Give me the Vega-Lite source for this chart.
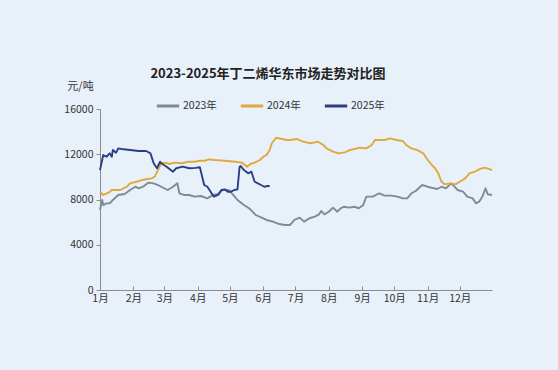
{
  "$schema": "https://vega.github.io/schema/vega-lite/v6.json",
  "width": 392,
  "height": 181,
  "autosize": "none",
  "padding": {"left": 100, "top": 109, "right": 66, "bottom": 80},
  "background": "#E8F0FA",
  "title": {
    "text": "2023-2025年丁二烯华东市场走势对比图",
    "fontSize": 13,
    "fontWeight": "bold",
    "color": "#222222",
    "font": "Noto Sans CJK SC",
    "frame": "group",
    "anchor": "middle",
    "dx": -28,
    "offset": -1
  },
  "config": {
    "view": {"stroke": null},
    "font": "Noto Sans CJK SC"
  },
  "data": {
    "values": [
      {"year": "2023年", "date": "2023-01-01", "price": 7070},
      {"year": "2023年", "date": "2023-01-03", "price": 7960},
      {"year": "2023年", "date": "2023-01-04", "price": 7510},
      {"year": "2023年", "date": "2023-01-07", "price": 7660},
      {"year": "2023年", "date": "2023-01-10", "price": 7660},
      {"year": "2023年", "date": "2023-01-13", "price": 7960},
      {"year": "2023年", "date": "2023-01-18", "price": 8400},
      {"year": "2023年", "date": "2023-01-24", "price": 8490},
      {"year": "2023年", "date": "2023-01-29", "price": 8840},
      {"year": "2023年", "date": "2023-02-03", "price": 9130},
      {"year": "2023年", "date": "2023-02-06", "price": 8990},
      {"year": "2023年", "date": "2023-02-10", "price": 9130},
      {"year": "2023年", "date": "2023-02-15", "price": 9490},
      {"year": "2023年", "date": "2023-02-20", "price": 9430},
      {"year": "2023年", "date": "2023-02-24", "price": 9280},
      {"year": "2023年", "date": "2023-02-27", "price": 9130},
      {"year": "2023年", "date": "2023-03-04", "price": 8840},
      {"year": "2023年", "date": "2023-03-09", "price": 9130},
      {"year": "2023年", "date": "2023-03-13", "price": 9430},
      {"year": "2023年", "date": "2023-03-15", "price": 8550},
      {"year": "2023年", "date": "2023-03-19", "price": 8400},
      {"year": "2023年", "date": "2023-03-24", "price": 8400},
      {"year": "2023年", "date": "2023-03-29", "price": 8250},
      {"year": "2023年", "date": "2023-04-04", "price": 8310},
      {"year": "2023年", "date": "2023-04-10", "price": 8100},
      {"year": "2023年", "date": "2023-04-15", "price": 8400},
      {"year": "2023年", "date": "2023-04-20", "price": 8490},
      {"year": "2023年", "date": "2023-04-24", "price": 8840},
      {"year": "2023年", "date": "2023-04-30", "price": 8840},
      {"year": "2023年", "date": "2023-05-04", "price": 8400},
      {"year": "2023年", "date": "2023-05-08", "price": 7960},
      {"year": "2023年", "date": "2023-05-14", "price": 7510},
      {"year": "2023年", "date": "2023-05-19", "price": 7220},
      {"year": "2023年", "date": "2023-05-22", "price": 6920},
      {"year": "2023年", "date": "2023-05-25", "price": 6630},
      {"year": "2023年", "date": "2023-05-30", "price": 6420},
      {"year": "2023年", "date": "2023-06-04", "price": 6190},
      {"year": "2023年", "date": "2023-06-10", "price": 6040},
      {"year": "2023年", "date": "2023-06-16", "price": 5830},
      {"year": "2023年", "date": "2023-06-21", "price": 5750},
      {"year": "2023年", "date": "2023-06-26", "price": 5750},
      {"year": "2023年", "date": "2023-06-30", "price": 6190},
      {"year": "2023年", "date": "2023-07-05", "price": 6400},
      {"year": "2023年", "date": "2023-07-09", "price": 6040},
      {"year": "2023年", "date": "2023-07-14", "price": 6340},
      {"year": "2023年", "date": "2023-07-19", "price": 6480},
      {"year": "2023年", "date": "2023-07-23", "price": 6690},
      {"year": "2023年", "date": "2023-07-25", "price": 6980},
      {"year": "2023年", "date": "2023-07-28", "price": 6690},
      {"year": "2023年", "date": "2023-08-01", "price": 6920},
      {"year": "2023年", "date": "2023-08-05", "price": 7280},
      {"year": "2023年", "date": "2023-08-09", "price": 6920},
      {"year": "2023年", "date": "2023-08-12", "price": 7220},
      {"year": "2023年", "date": "2023-08-15", "price": 7360},
      {"year": "2023年", "date": "2023-08-20", "price": 7280},
      {"year": "2023年", "date": "2023-08-25", "price": 7360},
      {"year": "2023年", "date": "2023-08-29", "price": 7220},
      {"year": "2023年", "date": "2023-09-02", "price": 7510},
      {"year": "2023年", "date": "2023-09-05", "price": 8250},
      {"year": "2023年", "date": "2023-09-11", "price": 8250},
      {"year": "2023年", "date": "2023-09-17", "price": 8550},
      {"year": "2023年", "date": "2023-09-22", "price": 8340},
      {"year": "2023年", "date": "2023-09-28", "price": 8340},
      {"year": "2023年", "date": "2023-10-04", "price": 8250},
      {"year": "2023年", "date": "2023-10-09", "price": 8100},
      {"year": "2023年", "date": "2023-10-13", "price": 8100},
      {"year": "2023年", "date": "2023-10-17", "price": 8550},
      {"year": "2023年", "date": "2023-10-21", "price": 8750},
      {"year": "2023年", "date": "2023-10-27", "price": 9280},
      {"year": "2023年", "date": "2023-11-01", "price": 9130},
      {"year": "2023年", "date": "2023-11-07", "price": 8990},
      {"year": "2023年", "date": "2023-11-10", "price": 8930},
      {"year": "2023年", "date": "2023-11-14", "price": 9130},
      {"year": "2023年", "date": "2023-11-18", "price": 8990},
      {"year": "2023年", "date": "2023-11-21", "price": 9230},
      {"year": "2023年", "date": "2023-11-23", "price": 9430},
      {"year": "2023年", "date": "2023-11-26", "price": 9130},
      {"year": "2023年", "date": "2023-11-29", "price": 8840},
      {"year": "2023年", "date": "2023-12-04", "price": 8690},
      {"year": "2023年", "date": "2023-12-08", "price": 8250},
      {"year": "2023年", "date": "2023-12-13", "price": 8100},
      {"year": "2023年", "date": "2023-12-16", "price": 7660},
      {"year": "2023年", "date": "2023-12-19", "price": 7810},
      {"year": "2023年", "date": "2023-12-22", "price": 8250},
      {"year": "2023年", "date": "2023-12-25", "price": 8990},
      {"year": "2023年", "date": "2023-12-27", "price": 8460},
      {"year": "2023年", "date": "2023-12-31", "price": 8400},

      {"year": "2024年", "date": "2024-01-01", "price": 8690},
      {"year": "2024年", "date": "2024-01-04", "price": 8400},
      {"year": "2024年", "date": "2024-01-09", "price": 8600},
      {"year": "2024年", "date": "2024-01-12", "price": 8840},
      {"year": "2024年", "date": "2024-01-20", "price": 8840},
      {"year": "2024年", "date": "2024-01-26", "price": 9130},
      {"year": "2024年", "date": "2024-01-29", "price": 9430},
      {"year": "2024年", "date": "2024-02-04", "price": 9570},
      {"year": "2024年", "date": "2024-02-09", "price": 9720},
      {"year": "2024年", "date": "2024-02-13", "price": 9790},
      {"year": "2024年", "date": "2024-02-18", "price": 9870},
      {"year": "2024年", "date": "2024-02-21", "price": 10020},
      {"year": "2024年", "date": "2024-02-24", "price": 10600},
      {"year": "2024年", "date": "2024-02-27", "price": 11200},
      {"year": "2024年", "date": "2024-03-02", "price": 11260},
      {"year": "2024年", "date": "2024-03-05", "price": 11140},
      {"year": "2024年", "date": "2024-03-11", "price": 11260},
      {"year": "2024年", "date": "2024-03-17", "price": 11200},
      {"year": "2024年", "date": "2024-03-23", "price": 11340},
      {"year": "2024年", "date": "2024-03-29", "price": 11340},
      {"year": "2024年", "date": "2024-04-03", "price": 11430},
      {"year": "2024年", "date": "2024-04-08", "price": 11430},
      {"year": "2024年", "date": "2024-04-11", "price": 11550},
      {"year": "2024年", "date": "2024-04-17", "price": 11490},
      {"year": "2024年", "date": "2024-04-26", "price": 11430},
      {"year": "2024年", "date": "2024-05-06", "price": 11340},
      {"year": "2024年", "date": "2024-05-12", "price": 11260},
      {"year": "2024年", "date": "2024-05-17", "price": 10900},
      {"year": "2024年", "date": "2024-05-20", "price": 11140},
      {"year": "2024年", "date": "2024-05-24", "price": 11260},
      {"year": "2024年", "date": "2024-05-29", "price": 11490},
      {"year": "2024年", "date": "2024-06-01", "price": 11780},
      {"year": "2024年", "date": "2024-06-04", "price": 11930},
      {"year": "2024年", "date": "2024-06-07", "price": 12380},
      {"year": "2024年", "date": "2024-06-09", "price": 12970},
      {"year": "2024年", "date": "2024-06-13", "price": 13460},
      {"year": "2024年", "date": "2024-06-23", "price": 13260},
      {"year": "2024年", "date": "2024-06-26", "price": 13260},
      {"year": "2024年", "date": "2024-07-02", "price": 13350},
      {"year": "2024年", "date": "2024-07-08", "price": 13110},
      {"year": "2024年", "date": "2024-07-15", "price": 12970},
      {"year": "2024年", "date": "2024-07-22", "price": 13110},
      {"year": "2024年", "date": "2024-07-27", "price": 12820},
      {"year": "2024年", "date": "2024-07-30", "price": 12520},
      {"year": "2024年", "date": "2024-08-05", "price": 12230},
      {"year": "2024年", "date": "2024-08-10", "price": 12080},
      {"year": "2024年", "date": "2024-08-16", "price": 12170},
      {"year": "2024年", "date": "2024-08-21", "price": 12380},
      {"year": "2024年", "date": "2024-08-25", "price": 12460},
      {"year": "2024年", "date": "2024-08-30", "price": 12580},
      {"year": "2024年", "date": "2024-09-05", "price": 12520},
      {"year": "2024年", "date": "2024-09-10", "price": 12820},
      {"year": "2024年", "date": "2024-09-13", "price": 13260},
      {"year": "2024年", "date": "2024-09-22", "price": 13260},
      {"year": "2024年", "date": "2024-09-27", "price": 13410},
      {"year": "2024年", "date": "2024-10-03", "price": 13260},
      {"year": "2024年", "date": "2024-10-09", "price": 13170},
      {"year": "2024年", "date": "2024-10-12", "price": 12820},
      {"year": "2024年", "date": "2024-10-17", "price": 12520},
      {"year": "2024年", "date": "2024-10-22", "price": 12380},
      {"year": "2024年", "date": "2024-10-28", "price": 12080},
      {"year": "2024年", "date": "2024-10-31", "price": 11640},
      {"year": "2024年", "date": "2024-11-05", "price": 11050},
      {"year": "2024年", "date": "2024-11-08", "price": 10760},
      {"year": "2024年", "date": "2024-11-11", "price": 10310},
      {"year": "2024年", "date": "2024-11-14", "price": 9570},
      {"year": "2024年", "date": "2024-11-17", "price": 9340},
      {"year": "2024年", "date": "2024-11-22", "price": 9430},
      {"year": "2024年", "date": "2024-11-27", "price": 9340},
      {"year": "2024年", "date": "2024-12-01", "price": 9570},
      {"year": "2024年", "date": "2024-12-06", "price": 9870},
      {"year": "2024年", "date": "2024-12-10", "price": 10310},
      {"year": "2024年", "date": "2024-12-15", "price": 10460},
      {"year": "2024年", "date": "2024-12-20", "price": 10700},
      {"year": "2024年", "date": "2024-12-24", "price": 10810},
      {"year": "2024年", "date": "2024-12-28", "price": 10700},
      {"year": "2024年", "date": "2024-12-31", "price": 10600},

      {"year": "2025年", "date": "2025-01-01", "price": 10600},
      {"year": "2025年", "date": "2025-01-04", "price": 11930},
      {"year": "2025年", "date": "2025-01-07", "price": 11780},
      {"year": "2025年", "date": "2025-01-10", "price": 12080},
      {"year": "2025年", "date": "2025-01-12", "price": 11780},
      {"year": "2025年", "date": "2025-01-13", "price": 12380},
      {"year": "2025年", "date": "2025-01-16", "price": 12140},
      {"year": "2025年", "date": "2025-01-18", "price": 12520},
      {"year": "2025年", "date": "2025-01-21", "price": 12460},
      {"year": "2025年", "date": "2025-01-29", "price": 12380},
      {"year": "2025年", "date": "2025-02-06", "price": 12290},
      {"year": "2025年", "date": "2025-02-13", "price": 12290},
      {"year": "2025年", "date": "2025-02-17", "price": 12080},
      {"year": "2025年", "date": "2025-02-20", "price": 11200},
      {"year": "2025年", "date": "2025-02-23", "price": 10760},
      {"year": "2025年", "date": "2025-02-26", "price": 11340},
      {"year": "2025年", "date": "2025-02-27", "price": 11200},
      {"year": "2025年", "date": "2025-03-03", "price": 10900},
      {"year": "2025年", "date": "2025-03-09", "price": 10460},
      {"year": "2025年", "date": "2025-03-12", "price": 10760},
      {"year": "2025年", "date": "2025-03-18", "price": 10900},
      {"year": "2025年", "date": "2025-03-24", "price": 10760},
      {"year": "2025年", "date": "2025-03-30", "price": 10800},
      {"year": "2025年", "date": "2025-04-03", "price": 10850},
      {"year": "2025年", "date": "2025-04-07", "price": 9280},
      {"year": "2025年", "date": "2025-04-10", "price": 9130},
      {"year": "2025年", "date": "2025-04-13", "price": 8690},
      {"year": "2025年", "date": "2025-04-16", "price": 8250},
      {"year": "2025年", "date": "2025-04-20", "price": 8400},
      {"year": "2025年", "date": "2025-04-23", "price": 8840},
      {"year": "2025年", "date": "2025-04-26", "price": 8900},
      {"year": "2025年", "date": "2025-04-29", "price": 8690},
      {"year": "2025年", "date": "2025-05-02", "price": 8690},
      {"year": "2025年", "date": "2025-05-05", "price": 8840},
      {"year": "2025年", "date": "2025-05-08", "price": 8900},
      {"year": "2025年", "date": "2025-05-10", "price": 10900},
      {"year": "2025年", "date": "2025-05-11", "price": 10960},
      {"year": "2025年", "date": "2025-05-14", "price": 10600},
      {"year": "2025年", "date": "2025-05-18", "price": 10310},
      {"year": "2025年", "date": "2025-05-21", "price": 10460},
      {"year": "2025年", "date": "2025-05-24", "price": 9570},
      {"year": "2025年", "date": "2025-05-27", "price": 9430},
      {"year": "2025年", "date": "2025-05-30", "price": 9280},
      {"year": "2025年", "date": "2025-06-02", "price": 9130},
      {"year": "2025年", "date": "2025-06-05", "price": 9190},
      {"year": "2025年", "date": "2025-06-07", "price": 9190}
    ]
  },
  "mark": {"type": "line", "strokeWidth": 1.9, "strokeJoin": "round"},
  "encoding": {
    "x": {
      "field": "date",
      "timeUnit": "utcmonthdate",
      "type": "temporal",
      "scale": {
        "domain": [
          {"year": 2012, "month": 1, "date": 1, "utc": true},
          {"year": 2012, "month": 12, "date": 31, "utc": true}
        ]
      },
      "axis": {
        "title": null,
        "format": "%-m月",
        "tickCount": "month",
        "grid": false,
        "domainColor": "#8C8C8C",
        "tickColor": "#8C8C8C",
        "tickSize": -4,
        "labelFontSize": 10.5,
        "labelColor": "#333333",
        "labelPadding": 7,
        "labelFlush": false
      }
    },
    "y": {
      "field": "price",
      "type": "quantitative",
      "scale": {"domain": [0, 16000]},
      "axis": {
        "values": [0, 4000, 8000, 12000, 16000],
        "format": "d",
        "grid": false,
        "title": "元/吨",
        "titleAngle": 0,
        "titleAlign": "center",
        "titleBaseline": "middle",
        "titleX": -20,
        "titleY": -23,
        "titleFontSize": 11,
        "titleFontWeight": "normal",
        "titleColor": "#333333",
        "domainColor": "#8C8C8C",
        "tickColor": "#8C8C8C",
        "tickSize": 4,
        "labelFontSize": 10.5,
        "labelColor": "#333333",
        "labelPadding": 3
      }
    },
    "color": {
      "field": "year",
      "type": "nominal",
      "scale": {
        "domain": ["2023年", "2024年", "2025年"],
        "range": ["#7E8A97", "#E0A93B", "#2A3F83"]
      },
      "legend": {
        "title": null,
        "orient": "none",
        "direction": "horizontal",
        "legendX": 55,
        "legendY": -16,
        "symbolType": "stroke",
        "symbolStrokeWidth": 3,
        "symbolSize": 500,
        "labelFontSize": 10.5,
        "labelColor": "#333333",
        "labelOffset": 2,
        "columnPadding": 17
      }
    }
  }
}
